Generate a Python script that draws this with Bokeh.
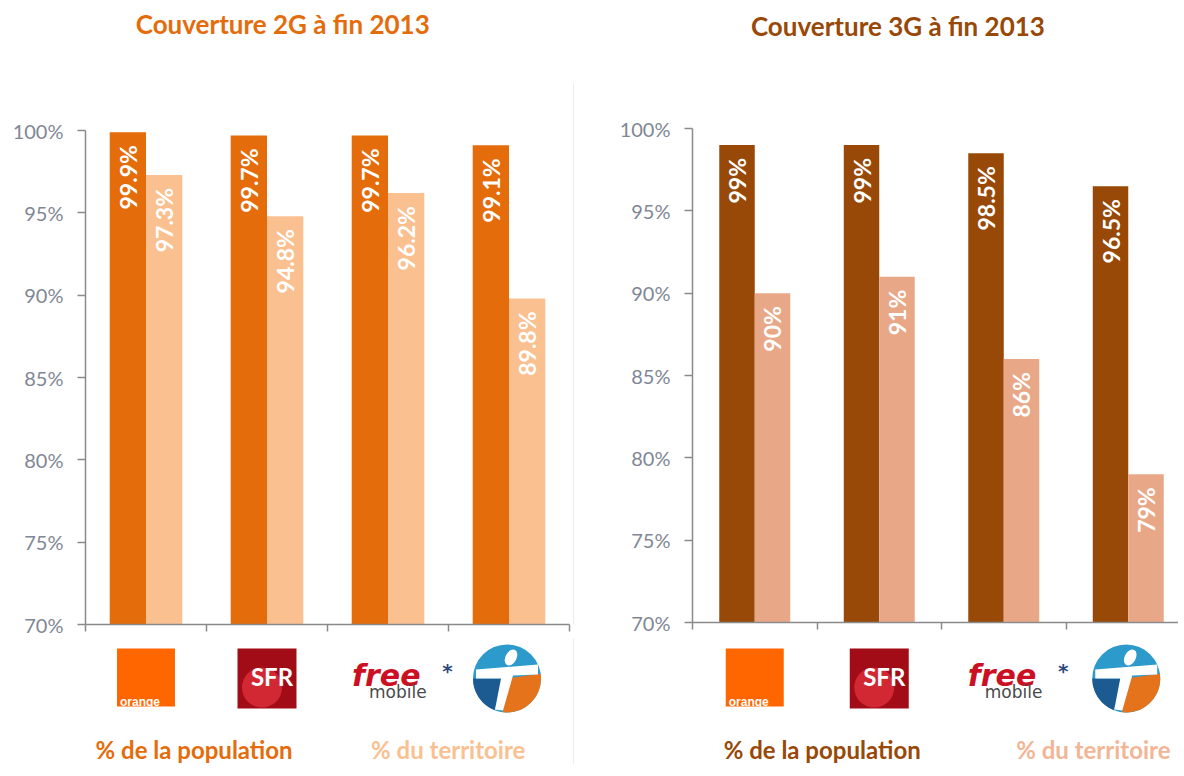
import math
from bokeh.plotting import figure
from bokeh.layouts import row, column
from bokeh.models import Range1d, FixedTicker, PrintfTickFormatter, ColumnDataSource
from bokeh.core.properties import value
from bokeh.embed import file_html
from bokeh.resources import INLINE

# ---------------- data ----------------
operators = ["Orange", "SFR", "Free Mobile*", "Bouygues Telecom"]
pop_2g = [99.9, 99.7, 99.7, 99.1]
terr_2g = [97.3, 94.8, 96.2, 89.8]
pop_3g = [99, 99, 98.5, 96.5]
terr_3g = [90, 91, 86, 79]
y_ticks = [70, 75, 80, 85, 90, 95, 100]
title_2g = "Couverture 2G à fin 2013"
title_3g = "Couverture 3G à fin 2013"
legend_labels = ["% de la population", "% du territoire"]

# ---------------- styling ----------------
FONT = value("Lato")
PX_PER_PCT = 494 / 30.0
TOP_H = 638
TOP_PAD = 6
BOT_H = 126
TICK_COLOR = "#7F8795"
AXIS_COLOR = "#8A8A8A"


def fmt(v):
    return f"{v:g}%"


def panel(title, pop, terr, c_pop, c_terr, title_color, leg_colors, fig_w,
          left_b, right_b, cat_px, bottom_pad, bar_w, title_x, title_px_above,
          legend_x, sep_x=None):
    frame_w = fig_w - left_b - right_b
    xmax = frame_w / cat_px
    frame_h = TOP_H - TOP_PAD - bottom_pad
    ymax = 70 + frame_h / PX_PER_PCT
    d = 1.0 / cat_px  # data units per pixel (x)

    p = figure(width=fig_w, height=TOP_H, x_range=Range1d(0, xmax),
               y_range=Range1d(70, ymax), output_backend="svg",
               toolbar_location=None, min_border_left=left_b,
               min_border_right=right_b, min_border_top=TOP_PAD,
               min_border_bottom=bottom_pad)
    p.outline_line_color = None
    p.grid.visible = False

    # axes
    xa = p.xaxis[0]
    xa.ticker = FixedTicker(ticks=[i for i in range(5) if i <= xmax + 1e-9])
    xa.bounds = (0, min(4, xmax))
    xa.major_label_text_font_size = "1px"
    xa.major_label_text_color = None
    xa.major_label_standoff = 0
    xa.major_tick_out = 7
    xa.major_tick_in = 0
    xa.minor_tick_out = 0
    xa.minor_tick_in = 0
    xa.axis_line_color = AXIS_COLOR
    xa.major_tick_line_color = AXIS_COLOR
    xa.axis_line_width = 1.5
    xa.major_tick_line_width = 1.5

    ya = p.yaxis[0]
    ya.ticker = FixedTicker(ticks=y_ticks)
    ya.bounds = (70, 100)
    ya.formatter = PrintfTickFormatter(format="%d%%")
    ya.major_label_text_font = "Lato"
    ya.major_label_text_font_size = "20px"
    ya.major_label_text_color = TICK_COLOR
    ya.major_tick_out = 8
    ya.major_tick_in = 0
    ya.minor_tick_out = 0
    ya.minor_tick_in = 0
    ya.major_label_standoff = 14
    ya.axis_line_color = AXIS_COLOR
    ya.major_tick_line_color = AXIS_COLOR
    ya.axis_line_width = 1.5
    ya.major_tick_line_width = 1.5

    if sep_x is not None:
        p.segment(x0=[sep_x], y0=[70], x1=[sep_x], y1=[102.85],
                  line_color="#ECECEC", line_width=1)

    src = ColumnDataSource(dict(
        x_pop=[i + 0.5 - bar_w / 2 for i in range(len(operators))],
        x_terr=[i + 0.5 + bar_w / 2 for i in range(len(operators))],
        pop=pop, terr=terr,
        lab_pop=[fmt(v) for v in pop], lab_terr=[fmt(v) for v in terr],
        op=operators,
    ))
    p.vbar(x="x_pop", top="pop", bottom=70, width=bar_w, source=src,
           fill_color=c_pop, line_color=None)
    p.vbar(x="x_terr", top="terr", bottom=70, width=bar_w, source=src,
           fill_color=c_terr, line_color=None)
    for xc, yc in (("x_pop", "lab_pop"), ("x_terr", "lab_terr")):
        p.text(x=xc, y=yc.replace("lab_", ""), text=yc, source=src,
               angle=math.pi / 2, text_align="right", text_baseline="middle",
               y_offset=13, text_color="white", text_font=FONT,
               text_font_style="bold", text_font_size="23px")

    # title
    p.text(x=[title_x], y=[100 + title_px_above / PX_PER_PCT], text=[title],
           text_align="center", text_baseline="middle", text_color=title_color,
           text_font=FONT, text_font_style="bold", text_font_size="26px")

    # ---------- bottom strip: logos + legend ----------
    b = figure(width=fig_w, height=BOT_H, x_range=p.x_range,
               y_range=Range1d(0, BOT_H), output_backend="svg",
               toolbar_location=None, x_axis_type=None, y_axis_type=None,
               min_border_left=left_b, min_border_right=right_b,
               min_border_top=0, min_border_bottom=0)
    b.outline_line_color = None
    b.grid.visible = False
    if sep_x is not None:
        b.segment(x0=[sep_x], y0=[0], x1=[sep_x], y1=[BOT_H],
                  line_color="#ECECEC", line_width=1)

    ly = 87  # logo centre row
    # Orange
    cx = 0.5
    b.rect(x=[cx], y=[ly], width=58, height=58, width_units="screen",
           height_units="screen", fill_color="#FF6600", line_color=None)
    b.text(x=[cx - 26 * d], y=[ly - 24], text=["orange"], text_color="white",
           text_font=value("Liberation Sans"), text_font_style="bold",
           text_font_size="12px", text_baseline="alphabetic")
    # SFR
    cx = 1.5
    b.rect(x=[cx], y=[ly - 1], width=59, height=60, width_units="screen",
           height_units="screen", fill_color="#A20C17", line_color=None)
    b.scatter(x=[cx - 5 * d], y=[ly - 10], size=40, marker="circle",
              fill_color="#D22833", line_color=None)
    b.text(x=[cx + 5 * d], y=[ly + 1], text=["SFR"], text_color="white",
           text_font=FONT, text_font_style="bold", text_font_size="24px",
           text_align="center", text_baseline="middle")
    # Free mobile
    cx = 2.5
    b.text(x=[cx - 36 * d], y=[ly + 2], text=["free"], text_color="#CC1024",
           text_font=value("DejaVu Sans"), text_font_style="bold italic",
           text_font_size="30px", text_baseline="alphabetic")
    b.text(x=[cx - 19 * d], y=[ly - 14], text=["mobile"], text_color="#4A4A4A",
           text_font=value("DejaVu Sans"), text_font_size="17px",
           text_baseline="alphabetic")
    b.text(x=[cx + 59.5 * d], y=[ly + 7], text=["*"], text_color="#2E4A7D",
           text_font=value("DejaVu Sans"), text_font_style="bold",
           text_font_size="20px", text_align="center", text_baseline="middle")
    # Bouygues Telecom
    cx = 3.5 - 2 * d
    by = ly - 1
    b.scatter(x=[cx], y=[by], size=68, marker="circle", fill_color="#2C9BCB",
              line_color=None)
    b.wedge(x=[cx], y=[by], radius=34, radius_units="screen",
            start_angle=math.radians(-97), end_angle=math.radians(8),
            fill_color="#E5731C", line_color=None)
    b.wedge(x=[cx], y=[by], radius=34, radius_units="screen",
            start_angle=math.radians(180), end_angle=math.radians(248),
            fill_color="#1C5A92", line_color=None)
    shape = [(-31, 9), (31, 14), (31, 4), (6, 3), (-4, -32), (-12, -31), (-6, 0), (-31, 0)]
    b.patch(x=[cx + sx * d for sx, _ in shape], y=[by + sy for _, sy in shape],
            fill_color="white", line_color=None)
    b.ellipse(x=[cx + 4 * d], y=[by + 21], width=11, height=17,
              width_units="screen", height_units="screen", angle=-0.5,
              fill_color="white", line_color=None)

    # legend texts
    for lx, lab, col in zip(legend_x, legend_labels, leg_colors):
        b.text(x=[lx], y=[15], text=[lab], text_color=col, text_font=FONT,
               text_font_style="bold", text_font_size="24px",
               text_baseline="middle")

    return column(p, b, spacing=0)


left = panel(title_2g, pop_2g, terr_2g, "#E46C0A", "#FAC090", "#E46C0A",
             ["#E46C0A", "#FAC090"], fig_w=590, left_b=85, right_b=12,
             cat_px=121.0, bottom_pad=14, bar_w=0.3, title_x=1.63,
             title_px_above=107, legend_x=[0.083, 2.36], sep_x=4.033)
right = panel(title_3g, pop_3g, terr_3g, "#984807", "#E8A888", "#984807",
              ["#984807", "#F2B595"], fig_w=588, left_b=102, right_b=0,
              cat_px=124.5, bottom_pad=16, bar_w=0.285, title_x=1.65,
              title_px_above=103, legend_x=[0.25, 2.6])

layout = row(left, right, spacing=0)

open("out.html", "w").write(file_html(layout, INLINE))
